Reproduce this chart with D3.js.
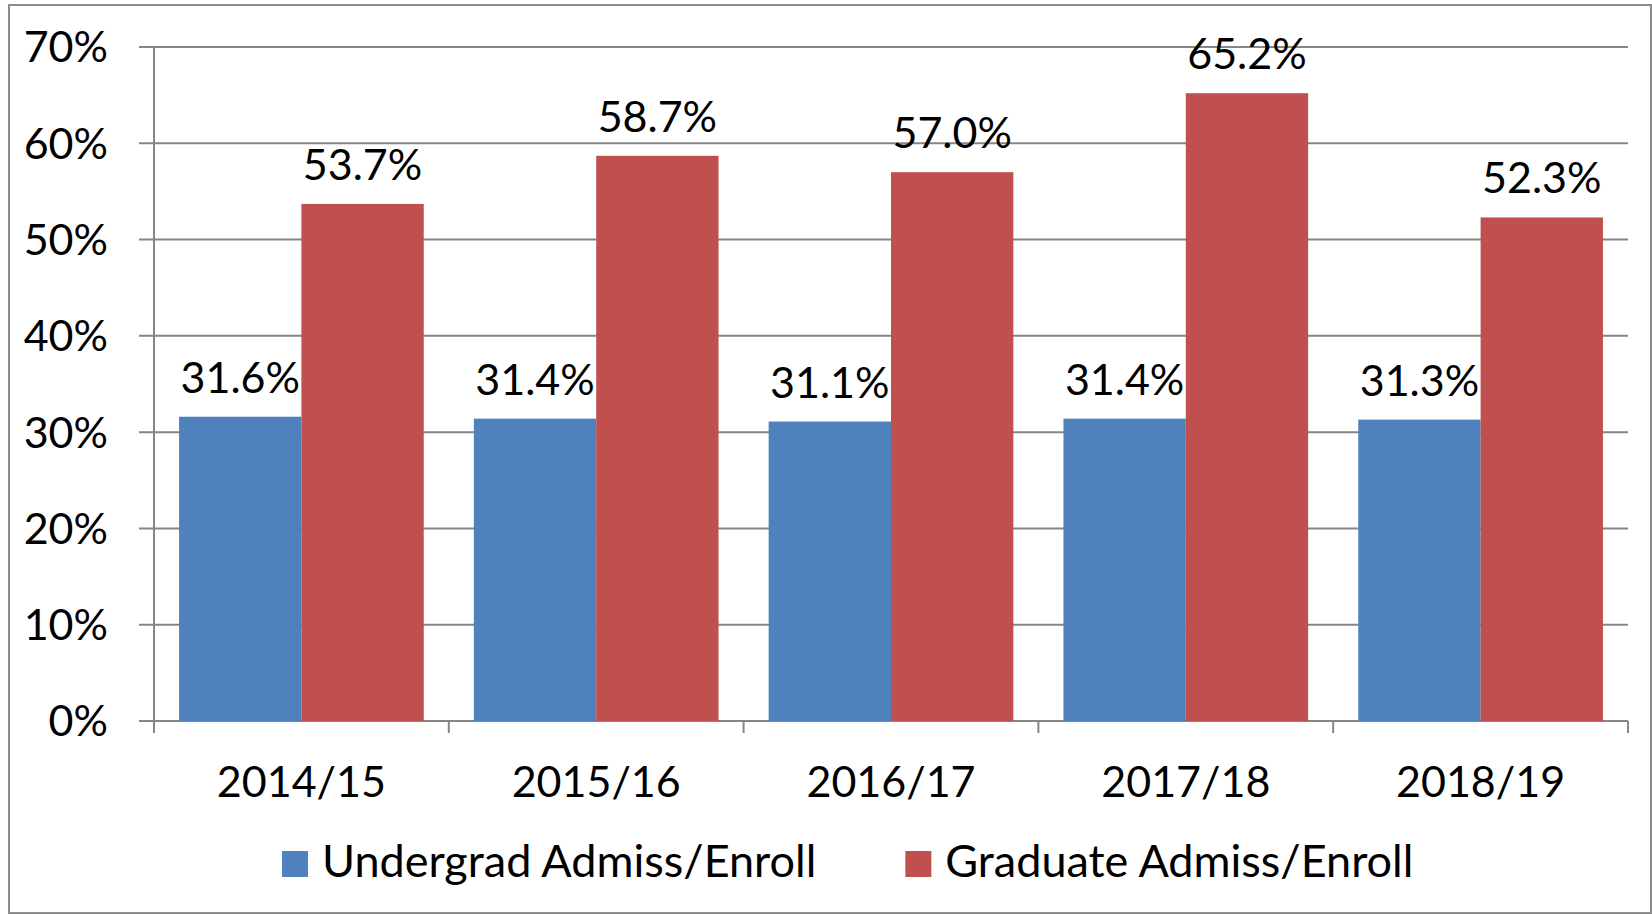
<!DOCTYPE html>
<html>
<head>
<meta charset="utf-8">
<script src="https://cdn.jsdelivr.net/npm/d3@7"></script>
<style>
  html, body { margin: 0; padding: 0; background: #fff; }
  svg { display: block; }
  text { font-family: Lato, "Open Sans", sans-serif; fill: #000; }
</style>
</head>
<body>
<svg id="chart" width="1652" height="915"></svg>
<script>
// --- Data ---
const years = ["2014/15", "2015/16", "2016/17", "2017/18", "2018/19"];
const undergrad = [31.6, 31.4, 31.1, 31.4, 31.3];
const graduate = [53.7, 58.7, 57.0, 65.2, 52.3];
const seriesNames = ["Undergrad Admiss/Enroll", "Graduate Admiss/Enroll"];
const yTicks = [0, 10, 20, 30, 40, 50, 60, 70];

const colors = ["#4F81BD", "#C0504D"];
const gridColor = "#868686";
const numSize = 43;     // digits in Lato run wider than the original face
const legendSize = 45;

const W = 1652, H = 915;
const plot = { left: 154, right: 1628, top: 47, bottom: 721 };

const svg = d3.select("#chart");

// outer frame
svg.append("rect")
  .attr("x", 9).attr("y", 5)
  .attr("width", W - 10).attr("height", H - 7)
  .attr("fill", "#fff")
  .attr("stroke", "#8c8c8c")
  .attr("stroke-width", 2);

const x = d3.scaleBand()
  .domain(years)
  .range([plot.left, plot.right])
  .paddingInner(0.17)
  .paddingOuter(0.085);

const xSub = d3.scaleBand()
  .domain([0, 1])
  .range([0, x.bandwidth()]);

const y = d3.scaleLinear()
  .domain([0, 70])
  .range([plot.bottom, plot.top]);

// gridlines
svg.append("g")
  .selectAll("line")
  .data(yTicks)
  .join("line")
  .attr("x1", plot.left - 15).attr("x2", plot.right)
  .attr("y1", d => y(d)).attr("y2", d => y(d))
  .attr("stroke", gridColor)
  .attr("stroke-width", 2);

// y axis line
svg.append("line")
  .attr("x1", plot.left).attr("x2", plot.left)
  .attr("y1", plot.top).attr("y2", plot.bottom + 12)
  .attr("stroke", gridColor).attr("stroke-width", 2);

// x ticks (category boundaries)
const step = (plot.right - plot.left) / years.length;
svg.append("g")
  .selectAll("line")
  .data(d3.range(years.length + 1))
  .join("line")
  .attr("x1", i => plot.left + i * step).attr("x2", i => plot.left + i * step)
  .attr("y1", plot.bottom).attr("y2", plot.bottom + 12)
  .attr("stroke", gridColor).attr("stroke-width", 2);

// y labels
svg.append("g")
  .selectAll("text")
  .data(yTicks)
  .join("text")
  .attr("x", 108)
  .attr("y", d => y(d))
  .attr("dy", "0.36em")
  .attr("text-anchor", "end")
  .attr("font-size", numSize)
  .text(d => d + "%");

// bars
const groups = svg.append("g")
  .selectAll("g")
  .data(years.map((yr, i) => ({ yr, vals: [undergrad[i], graduate[i]] })))
  .join("g")
  .attr("transform", d => `translate(${x(d.yr)},0)`);

groups.selectAll("rect")
  .data(d => d.vals)
  .join("rect")
  .attr("x", (v, j) => xSub(j))
  .attr("width", xSub.bandwidth())
  .attr("y", v => y(v))
  .attr("height", v => y(0) - y(v))
  .attr("fill", (v, j) => colors[j]);

groups.selectAll("text")
  .data(d => d.vals)
  .join("text")
  .attr("x", (v, j) => xSub(j) + xSub.bandwidth() / 2)
  .attr("y", v => y(v) - 24)
  .attr("text-anchor", "middle")
  .attr("font-size", numSize)
  .text(v => v.toFixed(1) + "%");

// x labels
svg.append("g")
  .selectAll("text")
  .data(years)
  .join("text")
  .attr("x", d => x(d) + x.bandwidth() / 2)
  .attr("y", 797)
  .attr("text-anchor", "middle")
  .attr("font-size", numSize)
  .text(d => d);

// legend
const legend = svg.append("g");
let lx = 282;
seriesNames.forEach((name, i) => {
  legend.append("rect")
    .attr("x", lx).attr("y", 851)
    .attr("width", 26).attr("height", 26)
    .attr("fill", colors[i]);
  const t = legend.append("text")
    .attr("x", lx + 40).attr("y", 877)
    .attr("font-size", legendSize)
    .text(name);
  lx += 40 + t.node().getComputedTextLength() + 89;
});
</script>
</body>
</html>
